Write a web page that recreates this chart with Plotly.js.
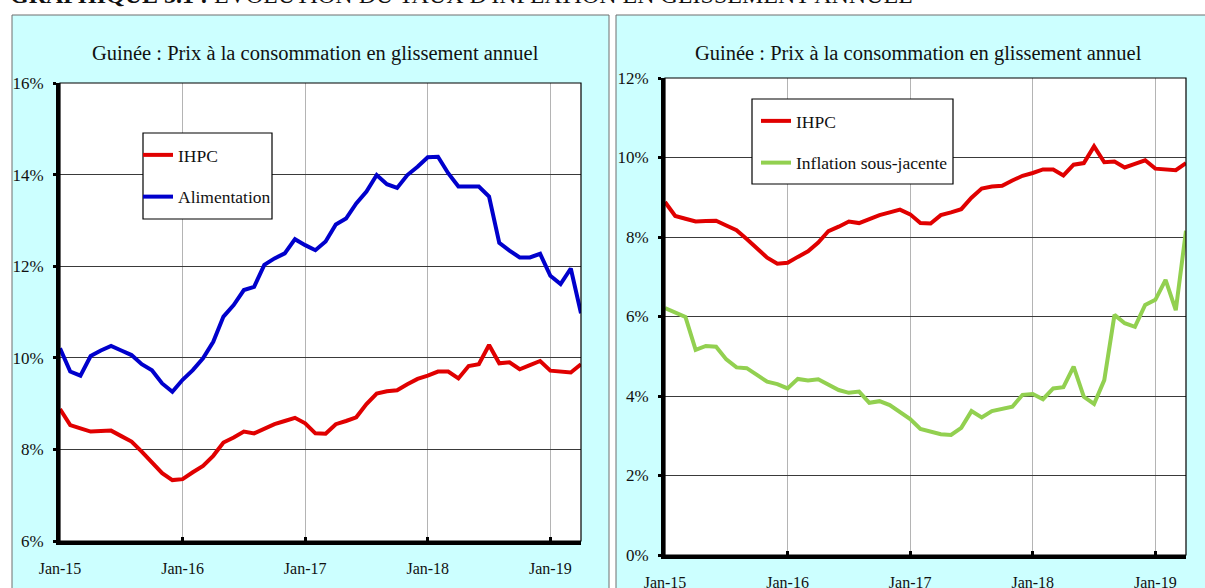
<!DOCTYPE html>
<html>
<head>
<meta charset="utf-8">
<script src="https://cdn.plot.ly/plotly-3.0.1.min.js"></script>
<style>
  html, body { margin: 0; padding: 0; background: #ffffff; }
  #chart { width: 1205px; height: 588px; }
</style>
</head>
<body>
<div id="chart"></div>
<script>
// ---- Data ----
const months = [
  "Jan-15","Feb-15","Mar-15","Apr-15","May-15","Jun-15","Jul-15","Aug-15","Sep-15","Oct-15","Nov-15","Dec-15",
  "Jan-16","Feb-16","Mar-16","Apr-16","May-16","Jun-16","Jul-16","Aug-16","Sep-16","Oct-16","Nov-16","Dec-16",
  "Jan-17","Feb-17","Mar-17","Apr-17","May-17","Jun-17","Jul-17","Aug-17","Sep-17","Oct-17","Nov-17","Dec-17",
  "Jan-18","Feb-18","Mar-18","Apr-18","May-18","Jun-18","Jul-18","Aug-18","Sep-18","Oct-18","Nov-18","Dec-18",
  "Jan-19","Feb-19","Mar-19","Apr-19"
];
const xTicks = ["Jan-15","Jan-16","Jan-17","Jan-18","Jan-19"];

// IHPC (headline inflation, %)
const ihpc = [8.88, 8.53, 8.46, 8.39, 8.40, 8.41, 8.29, 8.17, 7.95, 7.73, 7.48, 7.33,
              7.35, 7.50, 7.64, 7.86, 8.15, 8.26, 8.39, 8.35, 8.46, 8.55, 8.62, 8.69,
              8.57, 8.35, 8.34, 8.55, 8.62, 8.70, 8.99, 9.22, 9.27, 9.29, 9.42, 9.54,
              9.61, 9.70, 9.70, 9.55, 9.82, 9.86, 10.28, 9.88, 9.90, 9.75, 9.84, 9.93,
              9.72, 9.70, 9.68, 9.86];
// Alimentation (food, %)
const alimentation = [10.21, 9.70, 9.61, 10.04, 10.16, 10.26, 10.16, 10.06, 9.86, 9.73, 9.44, 9.26,
              9.52, 9.73, 9.99, 10.35, 10.90, 11.15, 11.48, 11.55, 12.03, 12.17, 12.28, 12.59,
              12.46, 12.35, 12.54, 12.91, 13.04, 13.37, 13.63, 13.99, 13.79, 13.71, 13.99, 14.17,
              14.38, 14.39, 14.03, 13.74, 13.74, 13.74, 13.52, 12.51, 12.34, 12.19, 12.19, 12.27,
              11.79, 11.61, 11.95, 10.97];
// Inflation sous-jacente (core, %)
const sousJacente = [6.21, 6.10, 5.99, 5.16, 5.26, 5.24, 4.92, 4.72, 4.70, 4.53, 4.36, 4.30,
              4.19, 4.43, 4.39, 4.42, 4.29, 4.15, 4.08, 4.11, 3.83, 3.87, 3.77, 3.60,
              3.42, 3.17, 3.10, 3.04, 3.02, 3.20, 3.62, 3.46, 3.62, 3.67, 3.73, 4.03,
              4.05, 3.92, 4.19, 4.22, 4.74, 3.98, 3.80, 4.40, 6.04, 5.83, 5.74, 6.29,
              6.42, 6.92, 6.16, 8.16];

const chartTitle = "Guinée : Prix à la consommation en glissement annuel";
const headerBold = "GRAPHIQUE 3.1 :";
const headerText = " EVOLUTION DU TAUX D'INFLATION EN GLISSEMENT ANNUEL";

// ---- Layout helpers (pixel -> paper) ----
const W = 1205, H = 588;
const px = v => v / W;
const py = v => 1 - v / H;

const FONT = "Liberation Serif";
const RED = "#E00000", BLUE = "#0000CC", GREEN = "#92D050";
const CYAN = "#CCFFFF";

const traces = [
  { x: months, y: ihpc, name: "IHPC", type: "scatter", mode: "lines",
    line: { color: RED, width: 4 }, xaxis: "x", yaxis: "y", legend: "legend", legendgroup: "a" },
  { x: months, y: alimentation, name: "Alimentation", type: "scatter", mode: "lines",
    line: { color: BLUE, width: 4 }, xaxis: "x", yaxis: "y", legend: "legend", legendgroup: "b" },
  { x: months, y: ihpc, name: "IHPC", type: "scatter", mode: "lines",
    line: { color: RED, width: 4 }, xaxis: "x2", yaxis: "y2", legend: "legend2", legendgroup: "c" },
  { x: months, y: sousJacente, name: "Inflation sous-jacente", type: "scatter", mode: "lines",
    line: { color: GREEN, width: 4 }, xaxis: "x2", yaxis: "y2", legend: "legend2", legendgroup: "d" }
];

function xAxis(domain, anchor) {
  return {
    type: "category", domain: domain, anchor: anchor,
    range: [0, months.length - 1], autorange: false,
    tickmode: "array", tickvals: xTicks, ticktext: xTicks,
    showgrid: true, gridcolor: "#b4b4b4", gridwidth: 1,
    showline: true, linecolor: "#000", linewidth: 4,
    ticks: "inside", ticklen: 4, tickwidth: 3, tickcolor: "#000",
    tickfont: { family: FONT, size: 16, color: "#111" },
    ticklabelstandoff: 10,
    zeroline: false, fixedrange: true
  };
}
function yAxis(domain, anchor, range) {
  return {
    domain: domain, anchor: anchor, range: range, autorange: false,
    dtick: 2, tick0: 0, ticksuffix: "%",
    showgrid: true, gridcolor: "#3a3a3a", gridwidth: 1,
    showline: true, linecolor: "#000", linewidth: 4,
    ticks: "outside", ticklen: 3, tickwidth: 3, tickcolor: "#000",
    tickfont: { family: FONT, size: 17, color: "#111" },
    ticklabelstandoff: 6,
    zeroline: false, fixedrange: true
  };
}

const xd1 = [px(60), px(581)], yd1 = [py(541), py(83)];
const xd2 = [px(665), px(1186)], yd2 = [py(555), py(78)];

const shapes = [
  // panels
  { type: "rect", xref: "paper", yref: "paper", x0: px(12), x1: px(609), y0: -0.1, y1: py(15),
    fillcolor: CYAN, line: { color: "#6f6f6f", width: 1 }, layer: "below" },
  { type: "rect", xref: "paper", yref: "paper", x0: px(616), x1: px(1215), y0: -0.1, y1: py(15),
    fillcolor: CYAN, line: { color: "#6f6f6f", width: 1 }, layer: "below" },
  // plot areas (white)
  { type: "rect", xref: "paper", yref: "paper", x0: xd1[0], x1: xd1[1], y0: yd1[0], y1: yd1[1],
    fillcolor: "#ffffff", line: { width: 0 }, layer: "below" },
  { type: "rect", xref: "paper", yref: "paper", x0: xd2[0], x1: xd2[1], y0: yd2[0], y1: yd2[1],
    fillcolor: "#ffffff", line: { width: 0 }, layer: "below" },
  // thin frame (top/right)
  { type: "rect", xref: "paper", yref: "paper", x0: xd1[0], x1: xd1[1], y0: yd1[0], y1: yd1[1],
    fillcolor: "rgba(0,0,0,0)", line: { color: "#000", width: 1.2 }, layer: "above" },
  { type: "rect", xref: "paper", yref: "paper", x0: xd2[0], x1: xd2[1], y0: yd2[0], y1: yd2[1],
    fillcolor: "rgba(0,0,0,0)", line: { color: "#000", width: 1.2 }, layer: "above" },
  // legend boxes (white, over gridlines)
  { type: "rect", xref: "paper", yref: "paper", x0: px(143), x1: px(272), y0: py(219), y1: py(133),
    fillcolor: "#ffffff", line: { color: "#000", width: 1.2 }, layer: "above" },
  { type: "rect", xref: "paper", yref: "paper", x0: px(752), x1: px(953), y0: py(184), y1: py(99),
    fillcolor: "#ffffff", line: { color: "#000", width: 1.2 }, layer: "above" }
];

const legendBase = {
  xanchor: "left", yanchor: "top", bgcolor: "rgba(0,0,0,0)", borderwidth: 0,
  font: { family: FONT, size: 17.5, color: "#111" }, tracegroupgap: 16, itemwidth: 30,
  traceorder: "grouped"
};

const layout = {
  width: W, height: H,
  margin: { l: 0, r: 0, t: 0, b: 0, pad: 0 },
  paper_bgcolor: "#ffffff", plot_bgcolor: "rgba(0,0,0,0)",
  showlegend: true,
  xaxis: xAxis(xd1, "y"),
  yaxis: yAxis(yd1, "x", [6, 16]),
  xaxis2: xAxis(xd2, "y2"),
  yaxis2: yAxis(yd2, "x2", [0, 12]),
  legend: Object.assign({}, legendBase, { x: px(138), y: py(137) }),
  legend2: Object.assign({}, legendBase, { x: px(756), y: py(103) }),
  shapes: shapes,
  annotations: [
    { text: chartTitle, xref: "paper", yref: "paper", x: px(315), y: py(54),
      xanchor: "center", yanchor: "middle", showarrow: false,
      font: { family: FONT, size: 20.5, color: "#111" } },
    { text: chartTitle, xref: "paper", yref: "paper", x: px(918), y: py(54),
      xanchor: "center", yanchor: "middle", showarrow: false,
      font: { family: FONT, size: 20.5, color: "#111" } },
    { text: "<b>" + headerBold + "</b>" + headerText, xref: "paper", yref: "paper",
      x: px(8), y: py(10), xanchor: "left", yanchor: "bottom", showarrow: false,
      font: { family: FONT, size: 24, color: "#111" } }
  ]
};

Plotly.newPlot("chart", traces, layout, { displayModeBar: false, staticPlot: true });
</script>
</body>
</html>
